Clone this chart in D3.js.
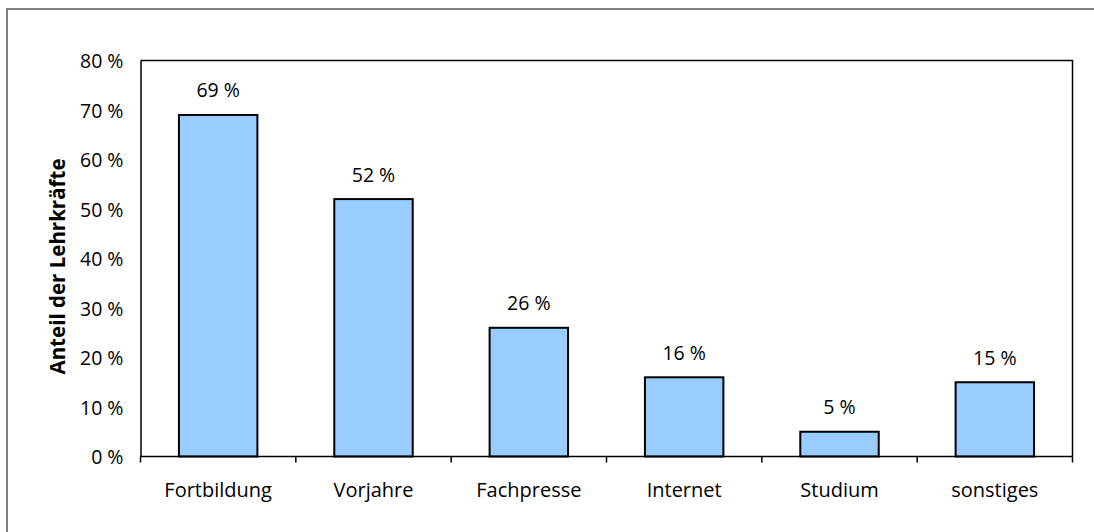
<!DOCTYPE html>
<html>
<head>
<meta charset="utf-8">
<script src="https://cdn.jsdelivr.net/npm/d3@7"></script>
<style>
  html, body { margin: 0; padding: 0; background: #fff; }
  svg { display: block; }
  text { font-family: "Open Sans", "Noto Sans", sans-serif; fill: #000; }
</style>
</head>
<body>
<svg id="chart" width="1094" height="532"></svg>
<script>
const categories = ["Fortbildung", "Vorjahre", "Fachpresse", "Internet", "Studium", "sonstiges"];
const values = [69, 52, 26, 16, 5, 15];
const yTicks = [0, 10, 20, 30, 40, 50, 60, 70, 80];
const yTitle = "Anteil der Lehrkräfte";

const svg = d3.select("#chart");
const plot = { left: 140.5, right: 1072.5, top: 60.5, bottom: 456.5 };

// outer chart border (extends past the viewport on right/bottom)
svg.append("rect")
  .attr("x", 7).attr("y", 9)
  .attr("width", 1200).attr("height", 700)
  .attr("fill", "none").attr("stroke", "#808080").attr("stroke-width", 2);

const x = d3.scaleBand().domain(categories).range([plot.left, plot.right]).padding(0);
const y = d3.scaleLinear().domain([0, 80]).range([plot.bottom, plot.top]);

// plot area frame (top & right)
svg.append("path")
  .attr("d", `M${plot.left},${plot.top}H${plot.right}V${plot.bottom}`)
  .attr("fill", "none").attr("stroke", "#000").attr("stroke-width", 1.5);

// bars
const bw = x.bandwidth() * 0.505;
svg.append("g").selectAll("rect").data(categories).join("rect")
  .attr("x", d => x(d) + (x.bandwidth() - bw) / 2)
  .attr("y", (d, i) => y(values[i]))
  .attr("width", bw)
  .attr("height", (d, i) => y(0) - y(values[i]))
  .attr("fill", "#99CCFF")
  .attr("stroke", "#000")
  .attr("stroke-width", 2);

// value labels
svg.append("g").selectAll("text").data(categories).join("text")
  .attr("x", d => x(d) + x.bandwidth() / 2)
  .attr("y", (d, i) => y(values[i]) - 17.5)
  .attr("text-anchor", "middle")
  .attr("font-size", 19.5)
  .text((d, i) => values[i] + "\u00a0%");

// y axis
const yAxis = d3.axisLeft(y).tickValues(yTicks).tickSize(0).tickPadding(17)
  .tickFormat(d => d + "\u00a0%");
const gy = svg.append("g").attr("transform", `translate(${plot.left},0)`).call(yAxis);
gy.select(".domain").attr("stroke", "#000").attr("stroke-width", 1.5);
gy.selectAll("text").attr("font-size", 19.5).attr("font-family", "Open Sans").attr("dy", "0.36em");

// x axis with ticks at category boundaries
const gx = svg.append("g").attr("transform", `translate(0,${plot.bottom})`);
gx.append("line").attr("x1", plot.left).attr("x2", plot.right)
  .attr("stroke", "#000").attr("stroke-width", 1.5);
const bounds = categories.map(d => x(d)).concat([plot.right]);
gx.selectAll("line.tick").data(bounds).join("line").attr("class", "tick")
  .attr("x1", d => d).attr("x2", d => d).attr("y1", 0).attr("y2", 6)
  .attr("stroke", "#000").attr("stroke-width", 1.5);
gx.selectAll("text").data(categories).join("text")
  .attr("x", d => x(d) + x.bandwidth() / 2)
  .attr("y", 40)
  .attr("text-anchor", "middle")
  .attr("font-size", 20)
  .text(d => d);

// y title
svg.append("text")
  .attr("transform", `translate(65,${(plot.top + plot.bottom) / 2 + 8}) rotate(-90)`)
  .attr("text-anchor", "middle")
  .attr("font-size", 20.5)
  .attr("font-weight", "bold")
  .text(yTitle);
</script>
</body>
</html>
